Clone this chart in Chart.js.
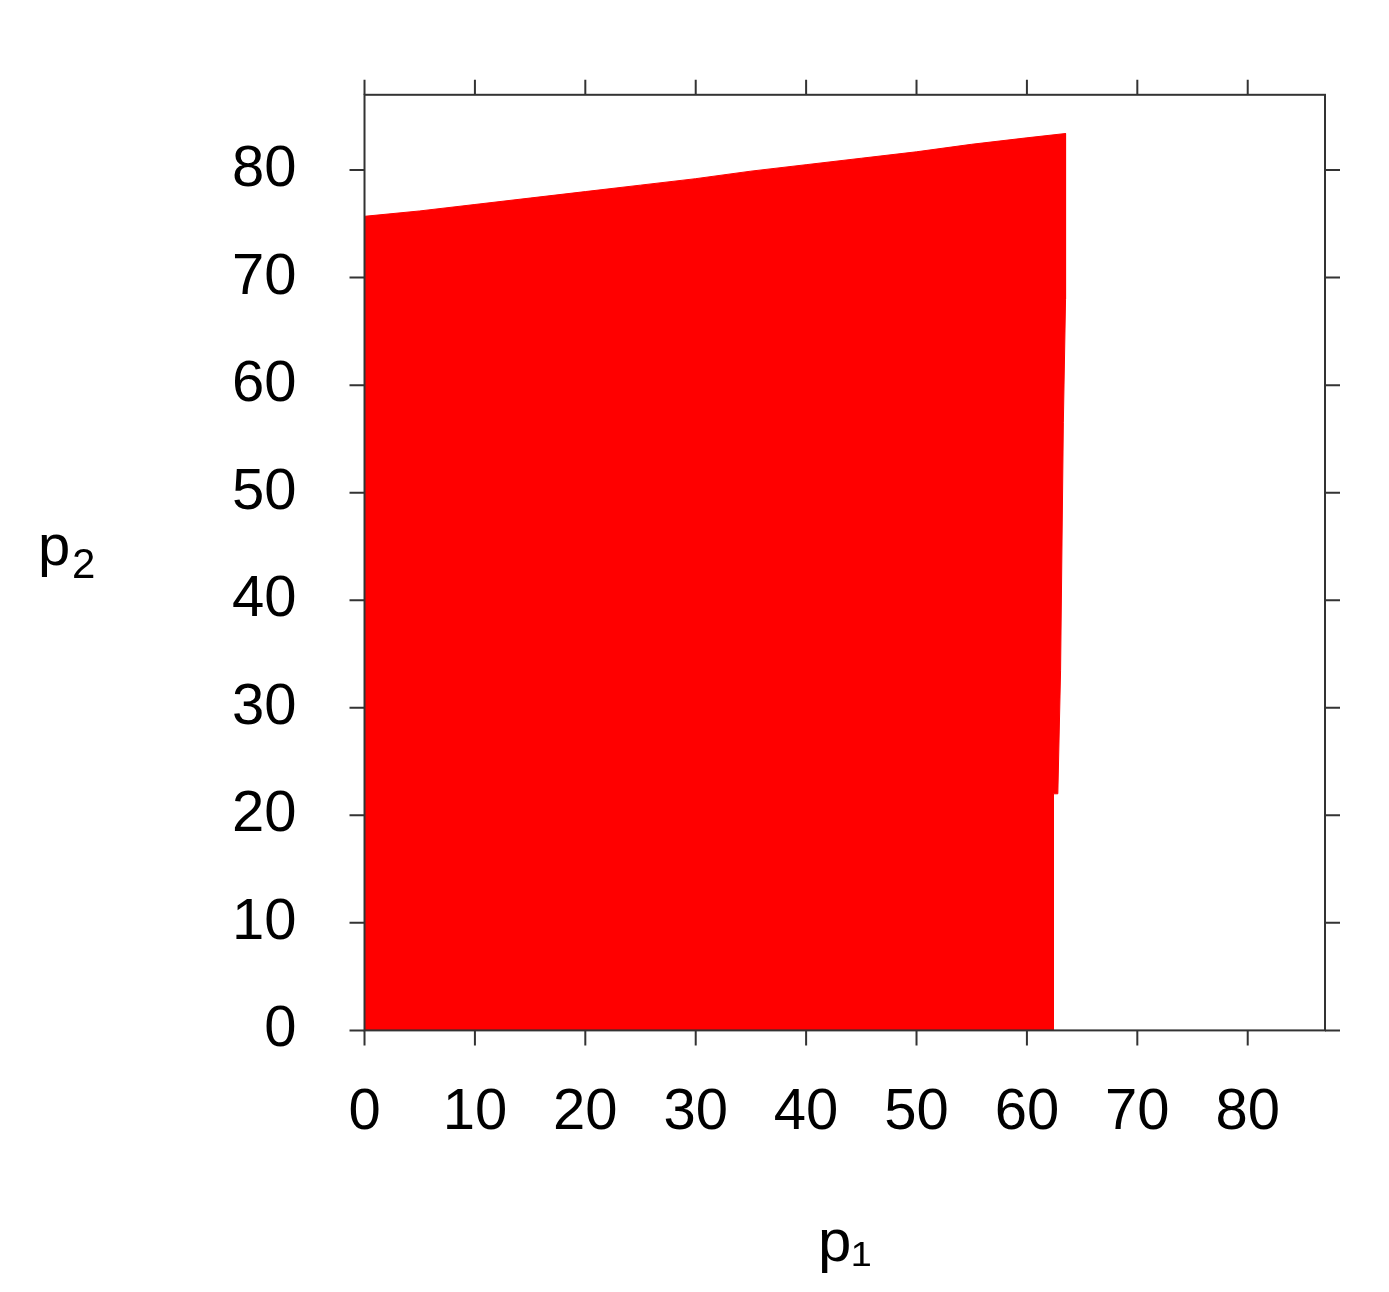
<!DOCTYPE html>
<html><head><meta charset="utf-8">
<script src="https://cdn.jsdelivr.net/npm/chart.js@4/dist/chart.umd.min.js"></script>
<style>body{margin:0;background:#fff}#w{width:1389px;height:1292px}</style>
</head><body><div id="w"><canvas id="c"></canvas></div>
<script>
// boundary of the red region, walked clockwise from the origin
const regionX = [0, 0, 5, 10, 15, 20, 25, 30, 35, 40, 45, 50, 55, 60, 63.5, 63.5, 63.3, 63.05, 62.8, 62.4, 62.4];
const regionY = [0, 75.7, 76.2, 76.8, 77.4, 78.0, 78.6, 79.2, 79.9, 80.5, 81.1, 81.7, 82.4, 83.0, 83.4, 68, 56.5, 33.5, 22, 22, 0];
const xTicks = [0, 10, 20, 30, 40, 50, 60, 70, 80];
const yTicks = [0, 10, 20, 30, 40, 50, 60, 70, 80];
const FONT = 'Liberation Sans, Arial, sans-serif';

const frameTicks = {
  id: 'frameTicks',
  afterDraw(chart) {
    const {ctx, chartArea: a, scales: {x, y}} = chart;
    ctx.save();
    ctx.strokeStyle = '#333';
    ctx.lineWidth = 2;
    ctx.strokeRect(a.left, a.top, a.right - a.left, a.bottom - a.top);
    ctx.beginPath();
    xTicks.forEach(v => {
      const px = x.getPixelForValue(v);
      ctx.moveTo(px, a.bottom); ctx.lineTo(px, a.bottom + 15);
      ctx.moveTo(px, a.top); ctx.lineTo(px, a.top - 15);
    });
    yTicks.forEach(v => {
      const py = y.getPixelForValue(v);
      ctx.moveTo(a.left, py); ctx.lineTo(a.left - 15, py);
      ctx.moveTo(a.right, py); ctx.lineTo(a.right + 15, py);
    });
    ctx.stroke();
    // upright y title
    ctx.fillStyle = '#000';
    ctx.textBaseline = 'alphabetic';
    ctx.font = '58px ' + FONT;
    ctx.fillText('p', 38, 565);
    ctx.font = '42px ' + FONT;
    ctx.fillText('2', 72, 578);
    ctx.restore();
  }
};

new Chart(document.getElementById('c'), {
  type: 'scatter',
  data: {
    datasets: [{
      data: regionX.map((v, i) => ({x: v, y: regionY[i]})),
      showLine: true,
      fill: 'shape',
      backgroundColor: '#ff0000',
      borderColor: '#ff0000',
      borderWidth: 1,
      pointRadius: 0,
      tension: 0
    }]
  },
  options: {
    responsive: true,
    maintainAspectRatio: false,
    animation: false,
    layout: {padding: {top: 23, right: 64, left: 172, bottom: 0}},
    plugins: {legend: {display: false}, tooltip: {enabled: false}},
    scales: {
      x: {
        type: 'linear', min: 0, max: 87,
        afterBuildTicks: s => { s.ticks = xTicks.map(v => ({value: v})); },
        grid: {display: false},
        border: {display: false},
        ticks: {color: '#000', font: {family: FONT, size: 58}, padding: 40, maxRotation: 0},
        title: {display: true, text: 'p\u2081', color: '#000', font: {family: FONT, size: 60}, padding: {top: 20, bottom: 12}}
      },
      y: {
        type: 'linear', min: 0, max: 87,
        afterBuildTicks: s => { s.ticks = yTicks.map(v => ({value: v})); },
        grid: {display: false},
        border: {display: false},
        ticks: {color: '#000', font: {family: FONT, size: 58}, padding: 60}
      }
    }
  },
  plugins: [frameTicks]
});
</script></body></html>
